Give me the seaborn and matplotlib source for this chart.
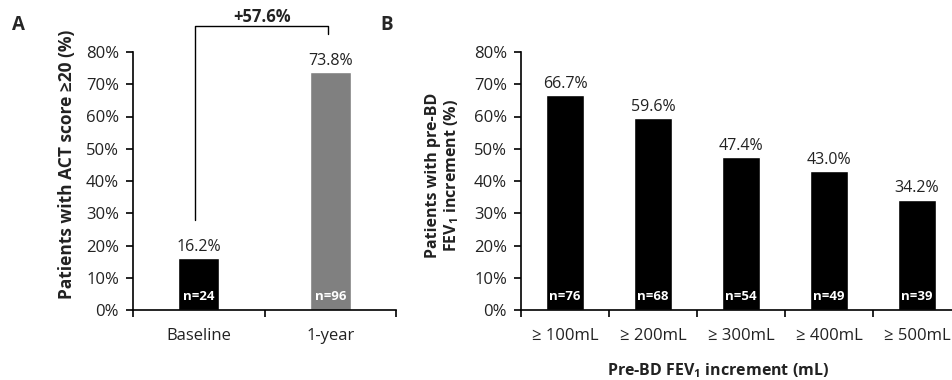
import numpy as np
import pandas as pd
import seaborn as sns
import matplotlib.pyplot as plt
from matplotlib.ticker import FixedLocator, FuncFormatter

# Panel A data
a_groups = ['Baseline', '1-year']
a_pct = [16.2, 73.8]
a_n = [24, 96]
a_colors = ['#000000', '#808080']
a_change = '+57.6%'

# Panel B data
b_groups = ['\u2265 100mL', '\u2265 200mL', '\u2265 300mL', '\u2265 400mL', '\u2265 500mL']
b_pct = [66.7, 59.6, 47.4, 43.0, 34.2]
b_n = [76, 68, 54, 49, 39]

sns.set_theme(style='white')
plt.rcParams['font.family'] = ['Open Sans', 'DejaVu Sans']
plt.rcParams['mathtext.fontset'] = 'custom'
plt.rcParams['mathtext.rm'] = 'Open Sans'
plt.rcParams['mathtext.bf'] = 'Open Sans:bold'

W, H = 952, 380
fig = plt.figure(figsize=(W / 100, H / 100), dpi=100)
TXT = '#222222'
FS = 12


def px_axes(x0, x1, ytop, ybot):
    return fig.add_axes([x0 / W, 1 - ybot / H, (x1 - x0) / W, (ybot - ytop) / H])


def style_axis(ax, ncat):
    ax.set_ylim(0, 80)
    ax.set_xlim(-0.5, ncat - 0.5)
    ax.yaxis.set_major_locator(FixedLocator(np.arange(0, 81, 10)))
    ax.yaxis.set_major_formatter(FuncFormatter(lambda v, p: f'{v:.0f}%'))
    ax.xaxis.set_minor_locator(FixedLocator(np.arange(-0.5, ncat, 1.0)))
    for s in ['top', 'right']:
        ax.spines[s].set_visible(False)
    for s in ['left', 'bottom']:
        ax.spines[s].set_color('black')
        ax.spines[s].set_linewidth(1.2)
    ax.tick_params(axis='y', which='major', left=True, length=5, width=1.2,
                   color='black', labelsize=FS, pad=5, labelcolor=TXT)
    ax.tick_params(axis='x', which='major', bottom=False, labelsize=FS,
                   pad=7, labelcolor=TXT)
    ax.tick_params(axis='x', which='minor', bottom=True, length=5, width=1.2,
                   color='black', direction='out')
    ax.set_xlabel('')
    ax.set_ylabel('')


def label_bars(ax, pcts, ns):
    for i, (p, n) in enumerate(zip(pcts, ns)):
        ax.text(i, p + 1.0, f'{p:.1f}%', ha='center', va='bottom',
                fontsize=11.5, color=TXT)
        ax.text(i, 4.3, f'n={n}', ha='center', va='center', fontsize=9.5,
                color='white', fontweight='bold')


# Panel A
dfa = pd.DataFrame({'group': a_groups, 'pct': a_pct})
axa = px_axes(133, 396, 52, 310)
sns.barplot(data=dfa, x='group', y='pct', hue='group', palette=a_colors,
            width=0.31, legend=False, saturation=1, ax=axa)
style_axis(axa, len(a_groups))
label_bars(axa, a_pct, a_n)
axa.plot([-0.03, -0.03, 0.98, 0.98], [28, 88, 88, 85.6], color='black',
         lw=1.0, clip_on=False)
axa.text(0.48, 90.8, a_change, ha='center', va='center', fontsize=12,
         fontweight='bold', color=TXT)
fig.text(67 / W, 1 - 164 / H, 'Patients with ACT score \u226520 (%)',
         rotation=90, ha='center', va='center', fontsize=12.5,
         fontweight='bold', color=TXT)

# Panel B
dfb = pd.DataFrame({'group': b_groups, 'pct': b_pct})
axb = px_axes(521, 961, 52, 310)
sns.barplot(data=dfb, x='group', y='pct', color='black', width=0.44,
            saturation=1, ax=axb)
style_axis(axb, len(b_groups))
label_bars(axb, b_pct, b_n)
fig.text(443 / W, 1 - 175 / H,
         'Patients with pre-BD\nFEV$_\\mathbf{1}$ increment (%)',
         rotation=90, ha='center', va='center', fontsize=11.5,
         fontweight='bold', color=TXT, linespacing=1.1)
fig.text(718 / W, 1 - 371 / H, 'Pre-BD FEV$_\\mathbf{1}$ increment (mL)',
         ha='center', va='center', fontsize=11.5, fontweight='bold',
         color=TXT)

fig.text(18 / W, 1 - 25 / H, 'A', ha='center', va='center', fontsize=13.5,
         fontweight='bold')
fig.text(387 / W, 1 - 25 / H, 'B', ha='center', va='center', fontsize=13.5,
         fontweight='bold')

fig.savefig('out.png', dpi=100)
